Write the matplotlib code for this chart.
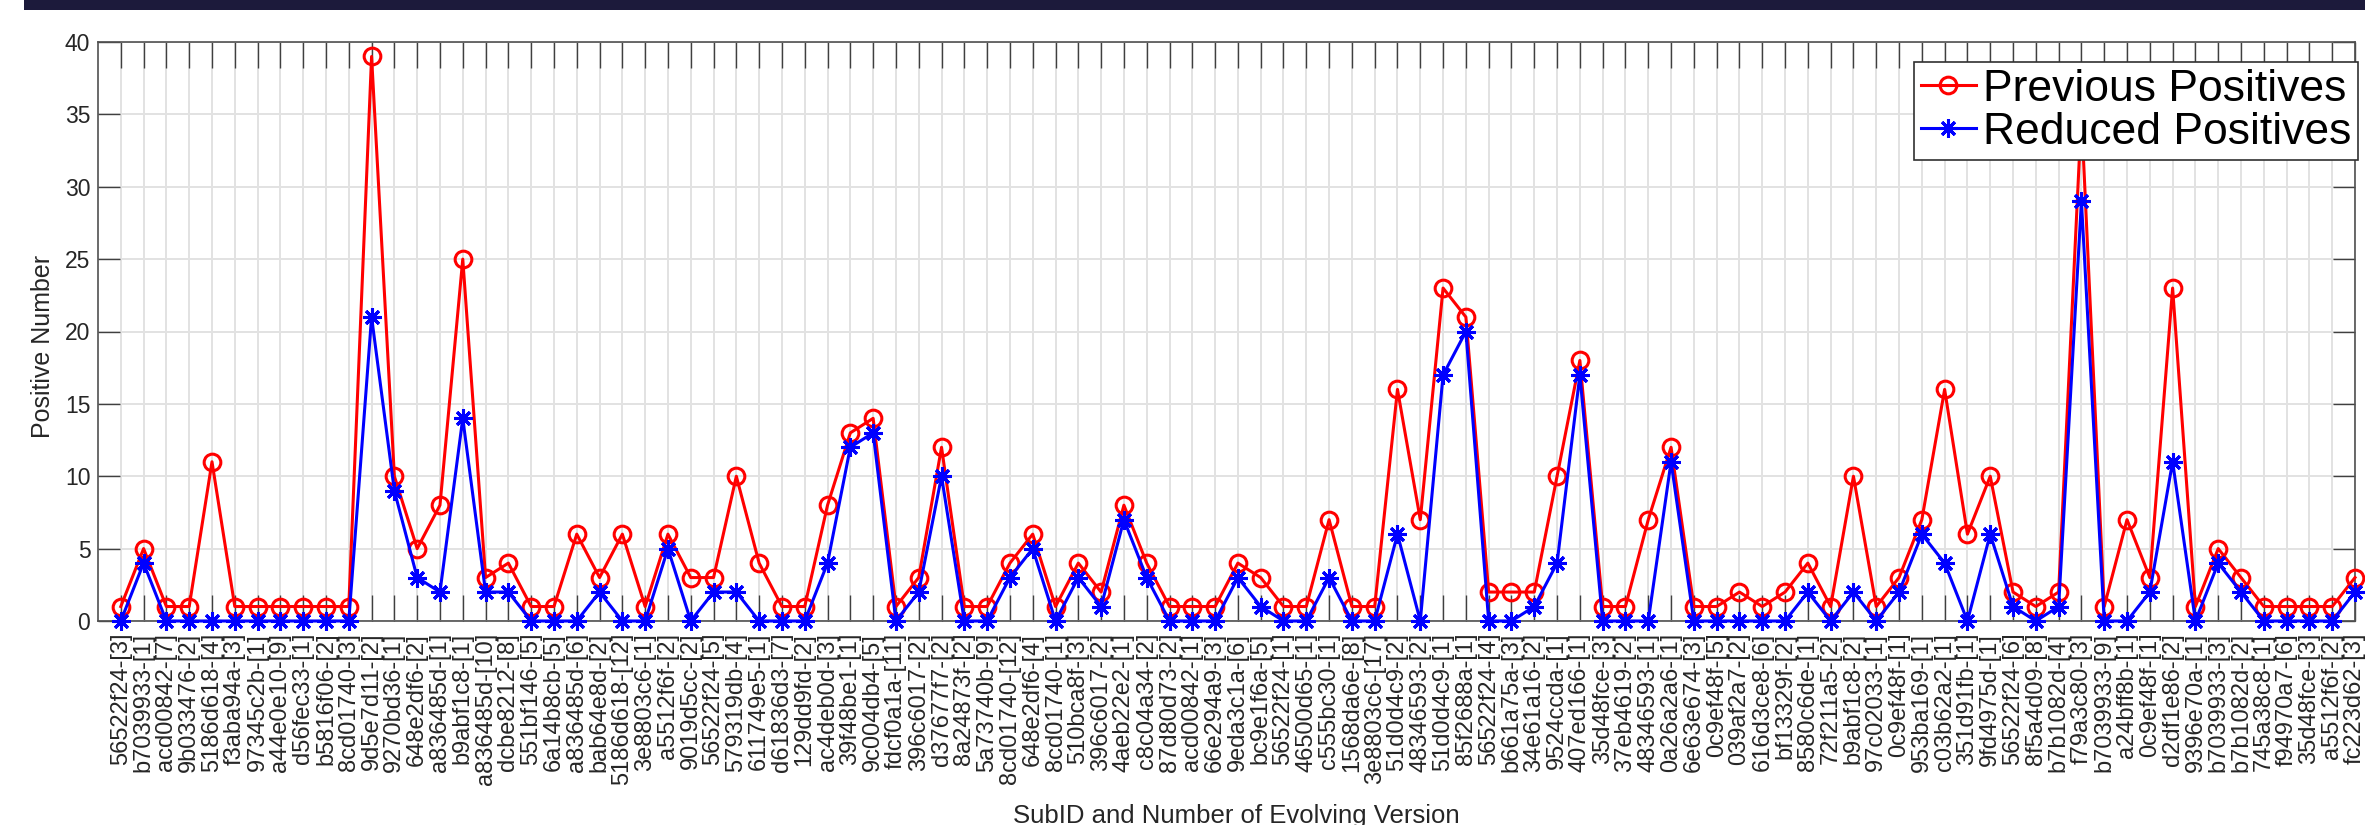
import matplotlib
matplotlib.use("Agg")
import matplotlib.pyplot as plt
from matplotlib.patches import Rectangle

plt.rcParams['font.family'] = ['Liberation Sans', 'DejaVu Sans']

labels = [
    "56522f24-[3]", "b7039933-[1]", "acd00842-[7]", "9b033476-[2]", "5186d618-[4]",
    "f3aba94a-[3]", "97345c2b-[1]", "a44e0e10-[9]", "d56fec33-[1]", "b5816f06-[2]",
    "8cd01740-[3]", "9d5e7d11-[2]", "9270bd36-[1]", "648e2df6-[2]", "a836485d-[1]",
    "b9abf1c8-[1]", "a836485d-[10]", "dcbe8212-[8]", "551bf146-[5]", "6a14b8cb-[5]",
    "a836485d-[6]", "bab64e8d-[2]", "5186d618-[12]", "3e8803c6-[1]", "a5512f6f-[2]",
    "9019d5cc-[2]", "56522f24-[5]", "579319db-[4]", "611749e5-[1]", "d61836d3-[7]",
    "129dd9fd-[2]", "ac4deb0d-[3]", "39f48be1-[1]", "9c004db4-[5]", "fdcf0a1a-[11]",
    "396c6017-[2]", "d37677f7-[2]", "8a24873f-[2]", "5a73740b-[9]", "8cd01740-[12]",
    "648e2df6-[4]", "8cd01740-[1]", "510bca8f-[3]", "396c6017-[2]", "4aeb22e2-[1]",
    "c8c04a34-[2]", "87d80d73-[2]", "acd00842-[1]", "66e294a9-[3]", "9eda3c1a-[6]",
    "bc9e1f6a-[5]", "56522f24-[1]", "46500d65-[1]", "c555bc30-[1]", "1568da6e-[8]",
    "3e8803c6-[17]", "51d0d4c9-[2]", "48346593-[2]", "51d0d4c9-[1]", "85f2688a-[1]",
    "56522f24-[4]", "b661a75a-[3]", "34e61a16-[2]", "9524ccda-[1]", "407ed166-[1]",
    "35d48fce-[3]", "37eb4619-[2]", "48346593-[1]", "0a26a2a6-[1]", "6e63e674-[3]",
    "0c9ef48f-[5]", "039af2a7-[2]", "616d3ce8-[6]", "bf13329f-[2]", "8580c6de-[1]",
    "72f211a5-[2]", "b9abf1c8-[2]", "97c02033-[1]", "0c9ef48f-[1]", "953ba169-[1]",
    "c03b62a2-[1]", "351d91fb-[1]", "9fd4975d-[1]", "56522f24-[6]", "8f5a4d09-[8]",
    "b7b1082d-[4]", "f79a3c80-[3]", "b7039933-[9]", "a24bff8b-[1]", "0c9ef48f-[1]",
    "d2df1e86-[2]", "9396e70a-[1]", "b7039933-[3]", "b7b1082d-[2]", "745a38c8-[1]",
    "f94970a7-[6]", "35d48fce-[3]", "a5512f6f-[2]", "fc223d62-[3]",
]

previous_positives = [
    1, 5, 1, 1, 11, 1, 1, 1, 1, 1,
    1, 39, 10, 5, 8, 25, 3, 4, 1, 1,
    6, 3, 6, 1, 6, 3, 3, 10, 4, 1,
    1, 8, 13, 14, 1, 3, 12, 1, 1, 4,
    6, 1, 4, 2, 8, 4, 1, 1, 1, 4,
    3, 1, 1, 7, 1, 1, 16, 7, 23, 21,
    2, 2, 2, 10, 18, 1, 1, 7, 12, 1,
    1, 2, 1, 2, 4, 1, 10, 1, 3, 7,
    16, 6, 10, 2, 1, 2, 35, 1, 7, 3,
    23, 1, 5, 3, 1, 1, 1, 1, 3,
]

reduced_positives = [
    0, 4, 0, 0, 0, 0, 0, 0, 0, 0,
    0, 21, 9, 3, 2, 14, 2, 2, 0, 0,
    0, 2, 0, 0, 5, 0, 2, 2, 0, 0,
    0, 4, 12, 13, 0, 2, 10, 0, 0, 3,
    5, 0, 3, 1, 7, 3, 0, 0, 0, 3,
    1, 0, 0, 3, 0, 0, 6, 0, 17, 20,
    0, 0, 1, 4, 17, 0, 0, 0, 11, 0,
    0, 0, 0, 0, 2, 0, 2, 0, 2, 6,
    4, 0, 6, 1, 0, 1, 29, 0, 0, 2,
    11, 0, 4, 2, 0, 0, 0, 0, 2,
]

y_ticks = [0, 5, 10, 15, 20, 25, 30, 35, 40]

W, H = 2365, 825
fig = plt.figure(figsize=(W / 100, H / 100), dpi=100)

# dark banner at the top
fig.patches.append(Rectangle((24 / W, 1 - 10 / H), 1, 10 / H, transform=fig.transFigure,
                             facecolor='#1c1a3b', edgecolor='none'))

ax = fig.add_axes([98 / W, (H - 621) / H, (2355 - 98) / W, (621 - 42) / H])

x = list(range(1, len(labels) + 1))
ax.plot(x, previous_positives, color='#ff0000', lw=2.2, marker='o', ms=12,
        mfc='none', mec='#ff0000', mew=2.2, label='Previous Positives', clip_on=False, zorder=3)
ax.plot(x, reduced_positives, color='#0000ff', lw=2.2, marker=(8, 2, 0), ms=13,
        mec='#0000ff', mew=2.2, label='Reduced Positives', clip_on=False, zorder=4)

ax.set_xlim(0, len(labels))
ax.set_ylim(0, 40)
ax.set_xticks(x)
ax.set_xticklabels(labels, rotation=90, fontsize=17, color='#262626')
ax.set_yticks(y_ticks)
ax.set_yticklabels([str(v) for v in y_ticks], fontsize=16.5, color='#262626')

ax.tick_params(axis='x', direction='in', length=19, width=1, color='#404040',
               top=True, bottom=True, pad=8.5)
ax.tick_params(axis='y', direction='in', length=16, width=1, color='#404040',
               left=True, right=True, pad=5.5)

ax.grid(True, color='#e2e2e2', lw=1.4)
ax.set_axisbelow(True)
for s in ax.spines.values():
    s.set_color('#505050')
    s.set_linewidth(1.2)

fig.text(43 / W, 1 - 346 / H, 'Positive Number', rotation=90, fontsize=18,
         color='#262626', ha='center', va='center')
fig.text(1236 / W, 1 - 823 / H, 'SubID and Number of Evolving Version', fontsize=18.5,
         color='#262626', ha='center', va='baseline')

leg = ax.legend(loc='upper right', bbox_to_anchor=(1.0013, (621 - 62) / 579), borderaxespad=0,
                fontsize=32, handlelength=1.25, handletextpad=0.15, borderpad=0.15,
                labelspacing=0.05, fancybox=False, framealpha=1, edgecolor='#303030')
leg.get_frame().set_linewidth(1.2)
leg.set_zorder(10)

fig.savefig('out.png', dpi=100)
